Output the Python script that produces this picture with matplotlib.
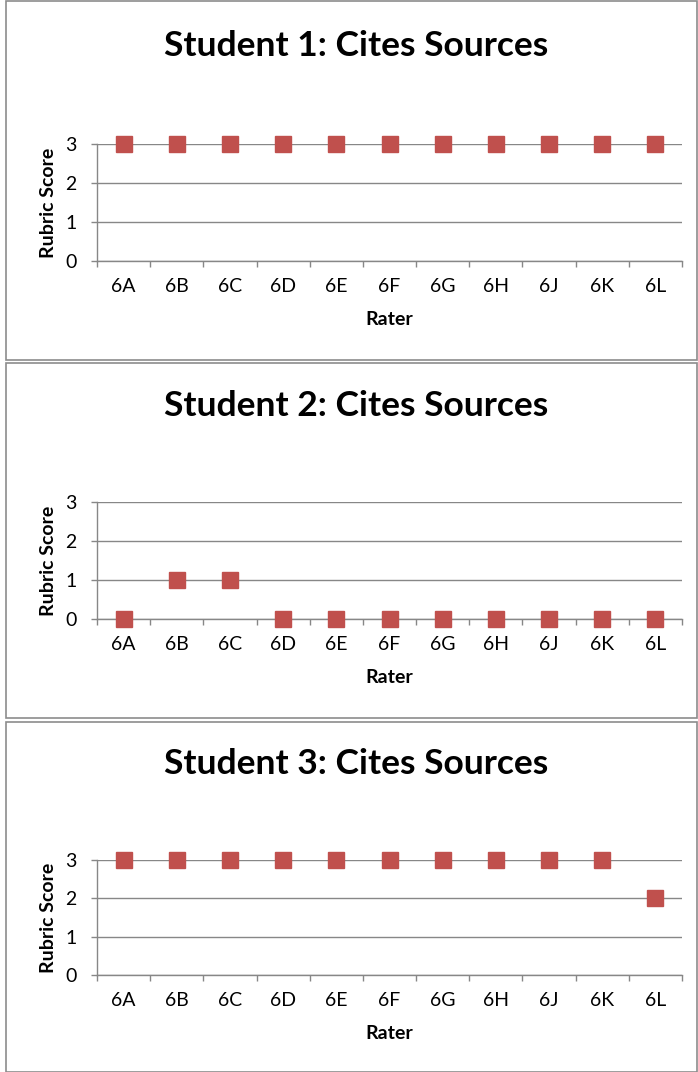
import matplotlib
matplotlib.use('Agg')
import matplotlib.pyplot as plt
import matplotlib.patches as mpatch
import numpy as np

plt.rcParams['font.family'] = ['Lato', 'DejaVu Sans']

raters = ['6A', '6B', '6C', '6D', '6E', '6F', '6G', '6H', '6J', '6K', '6L']
student1 = [3, 3, 3, 3, 3, 3, 3, 3, 3, 3, 3]
student2 = [0, 1, 1, 0, 0, 0, 0, 0, 0, 0, 0]
student3 = [3, 3, 3, 3, 3, 3, 3, 3, 3, 3, 2]
titles = ['Student 1: Cites Sources', 'Student 2: Cites Sources', 'Student 3: Cites Sources']
scores = [student1, student2, student3]

W, H = 698, 1072
fig = plt.figure(figsize=(W / 100, H / 100), dpi=100)

# panel frames (pixels): top, bottom
frames = [(1, 360), (363, 718), (722, 1072)]
# axes rows (pixels): y of value 3, y of value 0
rows = [(144, 261), (502, 619), (860, 975)]
title_y = [46, 406, 764]
grid_c = '#878787'

for i in range(3):
    top, bot = frames[i]
    fig.patches.append(mpatch.Rectangle((6 / W, 1 - bot / H), 691 / W, (bot - top) / H,
                                        transform=fig.transFigure, fill=False,
                                        edgecolor='#8c8c8c', linewidth=1.2))
    y3, y0 = rows[i]
    ax = fig.add_axes([97 / W, 1 - y0 / H, 585 / W, (y0 - y3) / H])
    x = np.arange(len(raters))
    ax.plot(x, scores[i], ls='', marker='s', ms=11.5, color='#C0504D', clip_on=False, zorder=3)
    ax.set_xlim(-0.5, len(raters) - 0.5)
    ax.set_ylim(0, 3)
    ax.set_yticks([0, 1, 2, 3])
    ax.set_xticks(x)
    ax.set_xticklabels(raters)
    ax.set_xticks(np.arange(len(raters) + 1) - 0.5, minor=True)
    ax.tick_params(axis='x', which='major', length=0, pad=12, labelsize=14)
    ax.tick_params(axis='x', which='minor', length=4.5, width=1, color=grid_c)
    ax.tick_params(axis='y', length=4.5, width=1, color=grid_c, pad=10, labelsize=14)
    ax.grid(axis='y', color=grid_c, linewidth=1)
    ax.set_axisbelow(True)
    for s in ['top', 'right']:
        ax.spines[s].set_visible(False)
    for s in ['left', 'bottom']:
        ax.spines[s].set_color(grid_c)
        ax.spines[s].set_linewidth(1)
    ax.set_ylabel('Rubric Score', fontsize=14, fontweight='bold', labelpad=6)
    ax.set_xlabel('Rater', fontsize=14, fontweight='bold', labelpad=12)
    fig.text(356 / W, 1 - title_y[i] / H, titles[i], ha='center', va='center',
             fontsize=25.5, fontweight='bold')

fig.savefig('out.png', dpi=100)
